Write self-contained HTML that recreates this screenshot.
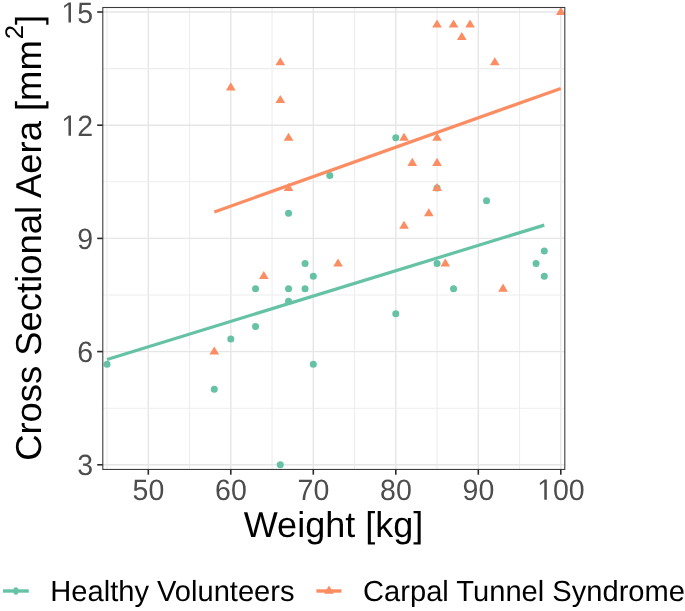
<!DOCTYPE html><html><head><meta charset="utf-8"><style>html,body{margin:0;padding:0;background:#fff;overflow:hidden;}svg{display:block;will-change:transform;}text{font-family:"Liberation Sans",sans-serif;text-rendering:geometricPrecision;}</style></head><body>
<svg width="685" height="611" viewBox="0 0 685 611">
<rect width="685" height="611" fill="#fff"/>
<defs><clipPath id="pc"><rect x="102.8" y="7.5" width="462.00" height="461.95"/></clipPath></defs>
<g><line x1="107.05" y1="7.5" x2="107.05" y2="469.45" stroke="#ededed" stroke-width="1.1"/><line x1="148.30" y1="7.5" x2="148.30" y2="469.45" stroke="#e6e6e6" stroke-width="1.4"/><line x1="189.55" y1="7.5" x2="189.55" y2="469.45" stroke="#ededed" stroke-width="1.1"/><line x1="230.80" y1="7.5" x2="230.80" y2="469.45" stroke="#e6e6e6" stroke-width="1.4"/><line x1="272.05" y1="7.5" x2="272.05" y2="469.45" stroke="#ededed" stroke-width="1.1"/><line x1="313.30" y1="7.5" x2="313.30" y2="469.45" stroke="#e6e6e6" stroke-width="1.4"/><line x1="354.55" y1="7.5" x2="354.55" y2="469.45" stroke="#ededed" stroke-width="1.1"/><line x1="395.80" y1="7.5" x2="395.80" y2="469.45" stroke="#e6e6e6" stroke-width="1.4"/><line x1="437.05" y1="7.5" x2="437.05" y2="469.45" stroke="#ededed" stroke-width="1.1"/><line x1="478.30" y1="7.5" x2="478.30" y2="469.45" stroke="#e6e6e6" stroke-width="1.4"/><line x1="519.55" y1="7.5" x2="519.55" y2="469.45" stroke="#ededed" stroke-width="1.1"/><line x1="560.80" y1="7.5" x2="560.80" y2="469.45" stroke="#e6e6e6" stroke-width="1.4"/><line x1="102.8" y1="464.80" x2="564.8" y2="464.80" stroke="#e6e6e6" stroke-width="1.4"/><line x1="102.8" y1="408.20" x2="564.8" y2="408.20" stroke="#ededed" stroke-width="1.1"/><line x1="102.8" y1="351.60" x2="564.8" y2="351.60" stroke="#e6e6e6" stroke-width="1.4"/><line x1="102.8" y1="295.00" x2="564.8" y2="295.00" stroke="#ededed" stroke-width="1.1"/><line x1="102.8" y1="238.40" x2="564.8" y2="238.40" stroke="#e6e6e6" stroke-width="1.4"/><line x1="102.8" y1="181.80" x2="564.8" y2="181.80" stroke="#ededed" stroke-width="1.1"/><line x1="102.8" y1="125.20" x2="564.8" y2="125.20" stroke="#e6e6e6" stroke-width="1.4"/><line x1="102.8" y1="68.60" x2="564.8" y2="68.60" stroke="#ededed" stroke-width="1.1"/><line x1="102.8" y1="12.00" x2="564.8" y2="12.00" stroke="#e6e6e6" stroke-width="1.4"/></g>
<g clip-path="url(#pc)">
<circle cx="107.05" cy="364.17" r="3.5" fill="#66c2a5"/>
<circle cx="214.30" cy="389.33" r="3.5" fill="#66c2a5"/>
<circle cx="230.80" cy="339.02" r="3.5" fill="#66c2a5"/>
<circle cx="255.55" cy="288.71" r="3.5" fill="#66c2a5"/>
<circle cx="255.55" cy="326.44" r="3.5" fill="#66c2a5"/>
<circle cx="280.30" cy="464.80" r="3.5" fill="#66c2a5"/>
<circle cx="288.55" cy="213.24" r="3.5" fill="#66c2a5"/>
<circle cx="288.55" cy="288.71" r="3.5" fill="#66c2a5"/>
<circle cx="288.55" cy="301.29" r="3.5" fill="#66c2a5"/>
<circle cx="305.05" cy="263.55" r="3.5" fill="#66c2a5"/>
<circle cx="305.05" cy="288.71" r="3.5" fill="#66c2a5"/>
<circle cx="313.30" cy="276.13" r="3.5" fill="#66c2a5"/>
<circle cx="313.30" cy="364.17" r="3.5" fill="#66c2a5"/>
<circle cx="329.80" cy="175.51" r="3.5" fill="#66c2a5"/>
<circle cx="395.80" cy="137.78" r="3.5" fill="#66c2a5"/>
<circle cx="395.80" cy="313.86" r="3.5" fill="#66c2a5"/>
<circle cx="437.05" cy="263.55" r="3.5" fill="#66c2a5"/>
<circle cx="453.55" cy="288.71" r="3.5" fill="#66c2a5"/>
<circle cx="486.55" cy="200.66" r="3.5" fill="#66c2a5"/>
<circle cx="536.05" cy="263.55" r="3.5" fill="#66c2a5"/>
<circle cx="544.30" cy="250.98" r="3.5" fill="#66c2a5"/>
<circle cx="544.30" cy="276.13" r="3.5" fill="#66c2a5"/>
<circle cx="437.05" cy="188.09" r="3.5" fill="#66c2a5"/>
<path d="M230.80,82.37L235.65,90.42L225.95,90.42Z" fill="#fc8d62"/>
<path d="M214.30,346.50L219.15,354.55L209.45,354.55Z" fill="#fc8d62"/>
<path d="M263.80,271.03L268.65,279.08L258.95,279.08Z" fill="#fc8d62"/>
<path d="M280.30,57.21L285.15,65.26L275.45,65.26Z" fill="#fc8d62"/>
<path d="M280.30,94.94L285.15,102.99L275.45,102.99Z" fill="#fc8d62"/>
<path d="M288.55,132.68L293.40,140.73L283.70,140.73Z" fill="#fc8d62"/>
<path d="M288.55,182.99L293.40,191.04L283.70,191.04Z" fill="#fc8d62"/>
<path d="M338.05,258.45L342.90,266.50L333.20,266.50Z" fill="#fc8d62"/>
<path d="M404.05,132.68L408.90,140.73L399.20,140.73Z" fill="#fc8d62"/>
<path d="M404.05,220.72L408.90,228.77L399.20,228.77Z" fill="#fc8d62"/>
<path d="M412.30,157.83L417.15,165.88L407.45,165.88Z" fill="#fc8d62"/>
<path d="M428.80,208.14L433.65,216.19L423.95,216.19Z" fill="#fc8d62"/>
<path d="M437.05,19.48L441.90,27.53L432.20,27.53Z" fill="#fc8d62"/>
<path d="M437.05,132.68L441.90,140.73L432.20,140.73Z" fill="#fc8d62"/>
<path d="M437.05,157.83L441.90,165.88L432.20,165.88Z" fill="#fc8d62"/>
<path d="M437.05,182.99L441.90,191.04L432.20,191.04Z" fill="#fc8d62"/>
<path d="M445.30,258.45L450.15,266.50L440.45,266.50Z" fill="#fc8d62"/>
<path d="M453.55,19.48L458.40,27.53L448.70,27.53Z" fill="#fc8d62"/>
<path d="M461.80,32.06L466.65,40.11L456.95,40.11Z" fill="#fc8d62"/>
<path d="M470.05,19.48L474.90,27.53L465.20,27.53Z" fill="#fc8d62"/>
<path d="M494.80,57.21L499.65,65.26L489.95,65.26Z" fill="#fc8d62"/>
<path d="M503.05,283.61L507.90,291.66L498.20,291.66Z" fill="#fc8d62"/>
<path d="M560.80,6.90L565.65,14.95L555.95,14.95Z" fill="#fc8d62"/>
<line x1="107.05" y1="359.45" x2="544.30" y2="225.1" stroke="#66c2a5" stroke-width="3.2"/>
<line x1="214.30" y1="211.95" x2="560.80" y2="88.4" stroke="#fc8d62" stroke-width="3.2"/>
</g>
<rect x="102.8" y="7.5" width="462.00" height="461.95" fill="none" stroke="#3d3d3d" stroke-width="1.1"/>
<line x1="97.2" y1="464.80" x2="102.8" y2="464.80" stroke="#2b2b2b" stroke-width="1.6"/><line x1="97.2" y1="351.60" x2="102.8" y2="351.60" stroke="#2b2b2b" stroke-width="1.6"/><line x1="97.2" y1="238.40" x2="102.8" y2="238.40" stroke="#2b2b2b" stroke-width="1.6"/><line x1="97.2" y1="125.20" x2="102.8" y2="125.20" stroke="#2b2b2b" stroke-width="1.6"/><line x1="97.2" y1="12.00" x2="102.8" y2="12.00" stroke="#2b2b2b" stroke-width="1.6"/><line x1="148.30" y1="469.45" x2="148.30" y2="474.7" stroke="#2b2b2b" stroke-width="1.6"/><line x1="230.80" y1="469.45" x2="230.80" y2="474.7" stroke="#2b2b2b" stroke-width="1.6"/><line x1="313.30" y1="469.45" x2="313.30" y2="474.7" stroke="#2b2b2b" stroke-width="1.6"/><line x1="395.80" y1="469.45" x2="395.80" y2="474.7" stroke="#2b2b2b" stroke-width="1.6"/><line x1="478.30" y1="469.45" x2="478.30" y2="474.7" stroke="#2b2b2b" stroke-width="1.6"/><line x1="560.80" y1="469.45" x2="560.80" y2="474.7" stroke="#2b2b2b" stroke-width="1.6"/>
<g transform="translate(77.15,475.40) scale(1,1.03)" fill="#4d4d4d"><text x="0.00" y="0" font-size="28.5">3</text></g>
<g transform="translate(77.15,362.20) scale(1,1.03)" fill="#4d4d4d"><text x="0.00" y="0" font-size="28.5">6</text></g>
<g transform="translate(77.15,249.00) scale(1,1.03)" fill="#4d4d4d"><text x="0.00" y="0" font-size="28.5">9</text></g>
<g transform="translate(61.30,135.80) scale(1,1.03)" fill="#4d4d4d"><path transform="translate(0.00,0) scale(0.013916,-0.013916)" d="M515 0V1237L197 1010V1180L530 1409H696V0Z"/><text x="15.85" y="0" font-size="28.5">2</text></g>
<g transform="translate(61.30,22.60) scale(1,1.03)" fill="#4d4d4d"><path transform="translate(0.00,0) scale(0.013916,-0.013916)" d="M515 0V1237L197 1010V1180L530 1409H696V0Z"/><text x="15.85" y="0" font-size="28.5">5</text></g>
<g transform="translate(132.55,499.80) scale(1,1.03)" fill="#4d4d4d"><text x="0.00" y="0" font-size="28.5">5</text><text x="15.85" y="0" font-size="28.5">0</text></g>
<g transform="translate(215.05,499.80) scale(1,1.03)" fill="#4d4d4d"><text x="0.00" y="0" font-size="28.5">6</text><text x="15.85" y="0" font-size="28.5">0</text></g>
<g transform="translate(297.55,499.80) scale(1,1.03)" fill="#4d4d4d"><text x="0.00" y="0" font-size="28.5">7</text><text x="15.85" y="0" font-size="28.5">0</text></g>
<g transform="translate(380.05,499.80) scale(1,1.03)" fill="#4d4d4d"><text x="0.00" y="0" font-size="28.5">8</text><text x="15.85" y="0" font-size="28.5">0</text></g>
<g transform="translate(462.55,499.80) scale(1,1.03)" fill="#4d4d4d"><text x="0.00" y="0" font-size="28.5">9</text><text x="15.85" y="0" font-size="28.5">0</text></g>
<g transform="translate(537.12,499.80) scale(1,1.03)" fill="#4d4d4d"><path transform="translate(0.00,0) scale(0.013916,-0.013916)" d="M515 0V1237L197 1010V1180L530 1409H696V0Z"/><text x="15.85" y="0" font-size="28.5">0</text><text x="31.70" y="0" font-size="28.5">0</text></g>
<text x="333.5" y="537.0" font-size="36" fill="#000" text-anchor="middle">Weight [kg]</text>
<text transform="translate(40.9,237.8) rotate(-90) scale(1.0104,1)" font-size="36" fill="#000" text-anchor="middle">Cross Sectional Aera [mm<tspan font-size="25.5" dx="1" dy="-17.5">2</tspan><tspan dy="17.5">]</tspan></text>
<line x1="3.0" y1="591" x2="28.8" y2="591" stroke="#66c2a5" stroke-width="3.4"/><ellipse cx="15.9" cy="591" rx="2.6" ry="3.7" fill="#66c2a5"/>
<text transform="translate(50.3,601) scale(1,1.0)" font-size="29.1" fill="#000">Healthy Volunteers</text>
<line x1="316.4" y1="591" x2="341.5" y2="591" stroke="#fc8d62" stroke-width="3.4"/><path d="M329,585.40L333.85,593.80L324.15,593.80Z" fill="#fc8d62"/>
<text transform="translate(363.1,601) scale(1,1.0)" font-size="29.1" fill="#000">Carpal Tunnel Syndrome</text>
</svg></body></html>
